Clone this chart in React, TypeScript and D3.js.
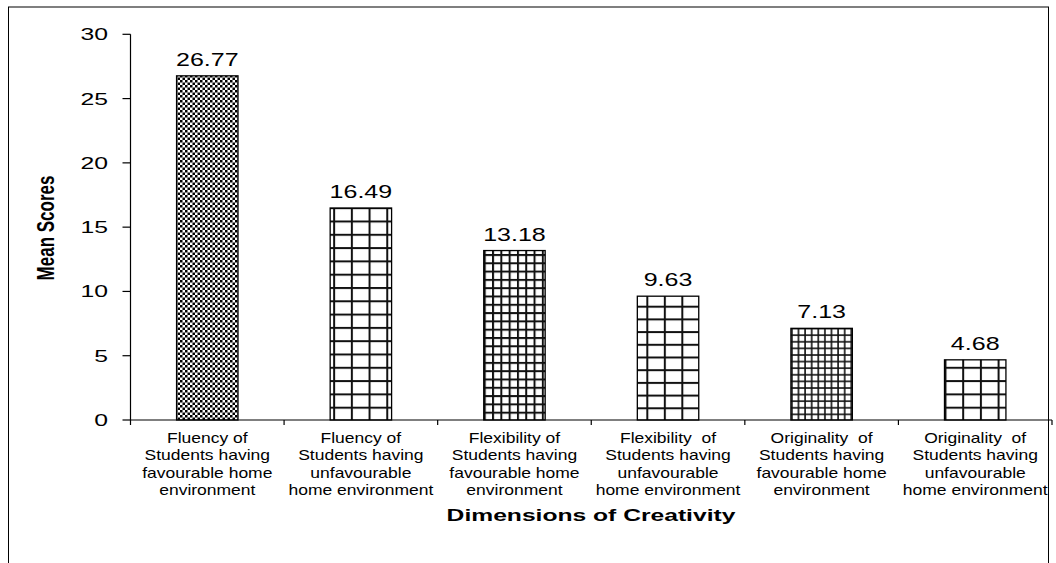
import React from "react";
import * as d3 from "d3";

const categories: string[][] = [
  ["Fluency of", "Students having", "favourable home", "environment"],
  ["Fluency of", "Students having", "unfavourable", "home environment"],
  ["Flexibility of", "Students having", "favourable home", "environment"],
  ["Flexibility  of", "Students having", "unfavourable", "home environment"],
  ["Originality  of", "Students having", "favourable home", "environment"],
  ["Originality  of", "Students having", "unfavourable", "home environment"],
];
const values: number[] = [26.77, 16.49, 13.18, 9.63, 7.13, 4.68];
const valueLabels: string[] = ["26.77", "16.49", "13.18", "9.63", "7.13", "4.68"];
const yTicks: number[] = [0, 5, 10, 15, 20, 25, 30];
const patternIds: string[] = ["checker", "gridL", "gridM", "gridL2", "gridS", "gridL3"];

const W = 1056;
const H = 563;
const left = 130.5;
const right = 1052;
const top = 34.3;
const bottom = 420;
const font = "Arial, 'Liberation Sans', sans-serif";

function SText(props: {
  x: number;
  y: number;
  sx: number;
  size: number;
  anchor?: string;
  bold?: boolean;
  lines: string[];
  lh?: number;
}) {
  const { x, y, sx, size, anchor = "middle", bold = false, lines, lh = 0 } = props;
  return (
    <text
      transform={`translate(${x},${y}) scale(${sx},1)`}
      textAnchor={anchor}
      fontFamily={font}
      fontSize={size}
      fontWeight={bold ? "bold" : "normal"}
      fill="#000"
    >
      {lines.map((l, j) => (
        <tspan key={j} x={0} y={j * lh} style={{ whiteSpace: "pre" }}>
          {l}
        </tspan>
      ))}
    </text>
  );
}

export default function App() {
  const idx = categories.map((_, i) => String(i));
  const x = d3.scaleBand<string>().domain(idx).range([left, right]).paddingInner(0.6).paddingOuter(0.3);
  const y = d3.scaleLinear().domain([0, 30]).range([bottom, top]);
  const step = x.step();

  const grid = (id: string, w: number, h: number, sw: number, ox: number, oy: number) => (
    <pattern id={id} patternUnits="userSpaceOnUse" x={ox} y={oy} width={w} height={h} key={id}>
      <rect width={w} height={h} fill="#fff" />
      <line x1={1} y1={0} x2={1} y2={h} stroke="#111" strokeWidth={sw} />
      <line x1={0} y1={1} x2={w} y2={1} stroke="#111" strokeWidth={sw} />
    </pattern>
  );

  const bx = (i: number) => x(String(i))!;

  return (
    <svg width={W} height={H} style={{ position: "absolute", left: 0, top: 0, background: "#fff" }}>
      <defs>
        <pattern id="checker" patternUnits="userSpaceOnUse" width={5} height={5}>
          <rect width={5} height={5} fill="#fff" />
          <rect x={0} y={0} width={2.5} height={2.5} fill="#000" />
          <rect x={2.5} y={2.5} width={2.5} height={2.5} fill="#000" />
        </pattern>
        {grid("gridL", 17.7, 13.3, 2, bx(1) + 3, bottom)}
        {grid("gridM", 8.3, 8.3, 2, bx(2), bottom)}
        {grid("gridL2", 17.5, 12.7, 2, bx(3) + 9, bottom)}
        {grid("gridS", 6.6, 6.6, 1.6, bx(4), bottom)}
        {grid("gridL3", 17.7, 13.3, 2, bx(5), bottom)}
      </defs>
      <rect x={8.5} y={7} width={1040} height={620} fill="#fff" stroke="#000" strokeWidth={1} />

      {/* bars */}
      {values.map((v, i) => (
        <g key={i}>
          <rect
            x={bx(i)}
            y={y(v)}
            width={x.bandwidth()}
            height={bottom - y(v)}
            fill={`url(#${patternIds[i]})`}
            stroke="#000"
            strokeWidth={1.3}
          />
          <SText x={bx(i) + x.bandwidth() / 2} y={y(v) - 10} sx={1.43} size={17.5} lines={[valueLabels[i]]} />
        </g>
      ))}

      {/* y axis */}
      <line x1={left} y1={top} x2={left} y2={bottom} stroke="#000" strokeWidth={1.2} />
      {yTicks.map((t) => (
        <g key={t}>
          <line x1={left - 8} y1={y(t)} x2={left} y2={y(t)} stroke="#000" strokeWidth={1.2} />
          <SText x={108} y={y(t) + 6} sx={1.5} size={16.5} anchor="end" lines={[String(t)]} />
        </g>
      ))}

      {/* x axis */}
      <line x1={left} y1={bottom} x2={right} y2={bottom} stroke="#000" strokeWidth={1.2} />
      {d3.range(categories.length + 1).map((i) => (
        <line key={i} x1={left + i * step} y1={bottom} x2={left + i * step} y2={bottom + 5} stroke="#000" strokeWidth={1.2} />
      ))}
      {categories.map((lines, i) => (
        <SText key={i} x={bx(i) + x.bandwidth() / 2} y={443} sx={1.25} size={14} lines={lines} lh={17.5} />
      ))}

      <text
        transform="translate(53.5,228) scale(1.4,1) rotate(-90)"
        textAnchor="middle"
        fontFamily={font}
        fontSize={17}
        fontWeight="bold"
        fill="#000"
      >
        Mean Scores
      </text>
      <SText x={591} y={521} sx={1.45} size={17} bold lines={["Dimensions of Creativity"]} />
    </svg>
  );
}
